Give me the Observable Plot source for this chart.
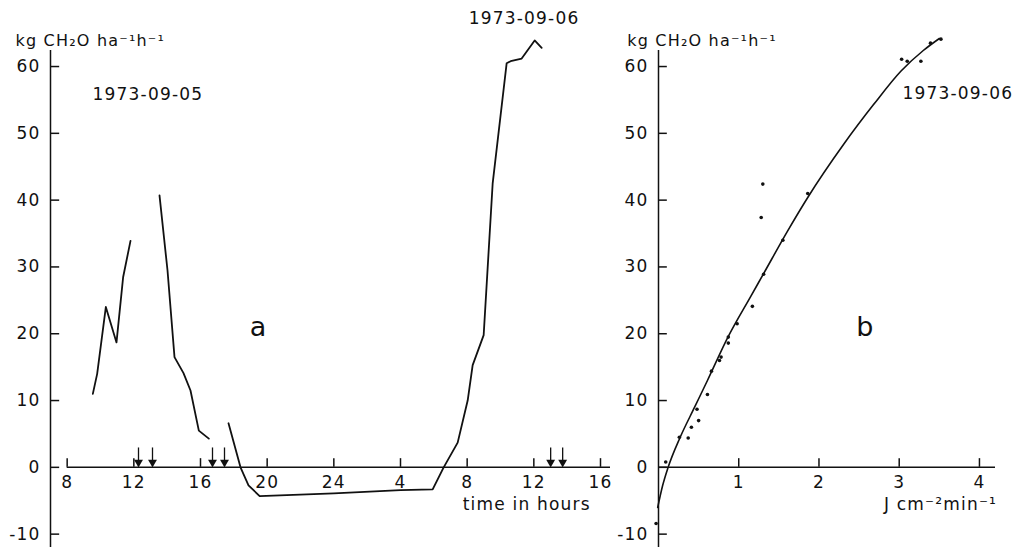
<!DOCTYPE html>
<html>
<head>
<meta charset="utf-8">
<script src="https://cdn.jsdelivr.net/npm/d3@7"></script>
<script src="https://cdn.jsdelivr.net/npm/@observablehq/plot@0.6"></script>
<style>
  html, body { margin: 0; padding: 0; background: #fff; }
  #wrap { position: relative; width: 1019px; height: 549px; overflow: hidden; }
  #wrap svg { position: absolute; top: 0; }
</style>
</head>
<body>
<div id="wrap"></div>
<script>
// ---- Panel a: net photosynthesis vs time (hours, continuous from 1973-09-05 08h) ----
const timeHours = [9.54, 9.80, 10.32, 10.96, 11.36, 11.80, 11.8,
  13.54, 14.02, 14.44, 14.98, 15.40, 15.90, 16.50, 16.5,
  17.68, 18.40, 18.88, 19.55, 24.0, 28.0, 29.93, 30.59, 31.43, 32.03, 32.33, 32.99, 33.53, 34.37, 34.61, 35.27, 36.05, 36.47];
const rateA = [11.0, 14.0, 24.0, 18.7, 28.5, 33.9, NaN,
  40.7, 29.5, 16.5, 14.1, 11.5, 5.5, 4.3, NaN,
  6.6, 0, -2.7, -4.3, -3.9, -3.4, -3.3, 0, 3.7, 10.0, 15.3, 19.8, 42.5, 60.5, 60.8, 61.2, 63.9, 62.8];
const arrowTimes = [12.28, 13.12, 16.72, 17.44, 37.01, 37.73];
const xTicksA = [8, 12, 16, 20, 24, 28, 32, 36, 40];
const xTickLabelsA = ["8", "12", "16", "20", "24", "4", "8", "12", "16"];

// ---- Panel b: net photosynthesis vs irradiance ----
const irradiance = [-0.03, 0.09, 0.26, 0.37, 0.41, 0.48, 0.50, 0.61, 0.66, 0.76, 0.78, 0.87, 0.87, 0.98, 1.17, 1.31, 1.28, 1.30, 1.55, 1.86, 3.03, 3.10, 3.27, 3.39, 3.52];
const rateB = [-8.4, 0.8, 4.5, 4.4, 6.0, 8.7, 7.0, 10.9, 14.4, 16.0, 16.5, 19.5, 18.6, 21.5, 24.1, 28.9, 37.4, 42.4, 34.0, 41.0, 61.1, 60.8, 60.8, 63.5, 64.1];
const fitIrr = [-0.01, 0.05, 0.12, 0.27, 0.45, 0.61, 0.87, 1.15, 1.31, 1.61, 1.86, 2.31, 2.68, 3.02, 3.30, 3.50];
const fitRate = [-6.0, -2.8, 0, 4.5, 9.0, 13.0, 19.6, 25.6, 29.0, 35.4, 40.4, 48.4, 54.3, 59.3, 62.4, 64.2];
const xTicksB = [1, 2, 3, 4];

const yTicks = [-10, 0, 10, 20, 30, 40, 50, 60];
const yExtent = [-12, 62.4];
const xExtentA = [7, 40.6];
const xExtentB = [0, 4.2];

const unitLabel = "kg CH\u2082O ha\u207B\u00B9h\u207B\u00B9";

const FONT = "DejaVu Sans";
const baseStyle = {fontFamily: FONT, fontSize: "17px", letterSpacing: "1.2px", background: "transparent", color: "#111", overflow: "visible"};

const seriesA = timeHours.map((t, i) => ({t, v: rateA[i]}));
const scatterB = irradiance.map((x, i) => ({x, v: rateB[i]}));
const fitB = fitIrr.map((x, i) => ({x, v: fitRate[i]}));

const plotA = Plot.plot({
  width: 620, height: 549,
  marginLeft: 50, marginRight: 10, marginTop: 50, marginBottom: 2,
  style: baseStyle,
  x: {domain: xExtentA, axis: null},
  y: {domain: yExtent, axis: null},
  marks: [
    // y axis line + inward ticks + labels
    Plot.ruleX([xExtentA[0]], {y1: yExtent[0], y2: yExtent[1], stroke: "#111", strokeWidth: 1.5}),
    Plot.ruleY(yTicks, {y: d => d, x1: xExtentA[0], x2: xExtentA[0] + 0.55, stroke: "#111", strokeWidth: 1.5}),
    Plot.text(yTicks, {x: xExtentA[0], y: d => d, text: d => String(d), dx: -10, textAnchor: "end", fill: "#111"}),
    // x axis along y = 0
    Plot.ruleY([0], {x1: xTicksA[0], x2: xExtentA[1], stroke: "#111", strokeWidth: 1.5}),
    Plot.ruleX(xTicksA, {x: d => d, y1: 0, y2: 1.3, stroke: "#111", strokeWidth: 1.5}),
    Plot.text(xTicksA, {x: d => d, y: 0, text: (d, i) => xTickLabelsA[i], dy: 15, fill: "#111"}),
    // arrows
    Plot.ruleX(arrowTimes, {x: d => d, y1: 1.0, y2: 2.9, stroke: "#111", strokeWidth: 1.3}),
    Plot.dot(arrowTimes, {x: d => d, y: 0.75, symbol: "triangle", rotate: 180, r: 3.3, fill: "#111", stroke: "none"}),
    // data
    Plot.line(seriesA, {x: "t", y: "v", stroke: "#111", strokeWidth: 1.8}),
    // annotations
    Plot.text([unitLabel], {x: 4.9, y: 63.9, text: d => d, textAnchor: "start", fill: "#111", fontSize: 16, letterSpacing: "0.2px"}),
    Plot.text(["1973-09-05"], {x: 9.52, y: 55.8, text: d => d, textAnchor: "start", fill: "#111"}),
    Plot.text(["1973-09-06"], {x: 32.09, y: 67.2, text: d => d, textAnchor: "start", fill: "#111"}),
    Plot.text(["a"], {x: 19.49, y: 20.9, text: d => d, fill: "#111", fontSize: 27}),
    Plot.text(["time in hours"], {x: 31.73, y: -5.5, text: d => d, textAnchor: "start", fill: "#111"})
  ]
});
plotA.style.left = "0px";

const plotB = Plot.plot({
  width: 459, height: 549,
  marginLeft: 98, marginRight: 24, marginTop: 50, marginBottom: 2,
  style: baseStyle,
  x: {domain: xExtentB, axis: null},
  y: {domain: yExtent, axis: null},
  marks: [
    Plot.ruleX([xExtentB[0]], {y1: yExtent[0], y2: yExtent[1], stroke: "#111", strokeWidth: 1.5}),
    Plot.ruleY(yTicks, {y: d => d, x1: xExtentB[0], x2: xExtentB[0] + 0.11, stroke: "#111", strokeWidth: 1.5}),
    Plot.text(yTicks, {x: xExtentB[0], y: d => d, text: d => String(d), dx: -10, textAnchor: "end", fill: "#111"}),
    Plot.ruleY([0], {x1: xExtentB[0], x2: xExtentB[1], stroke: "#111", strokeWidth: 1.5}),
    Plot.ruleX(xTicksB, {x: d => d, y1: 0, y2: 1.3, stroke: "#111", strokeWidth: 1.5}),
    Plot.text(xTicksB, {x: d => d, y: 0, text: d => String(d), dy: 15, fill: "#111"}),
    Plot.line(fitB, {x: "x", y: "v", curve: "monotone-x", stroke: "#111", strokeWidth: 1.6}),
    Plot.dot(scatterB, {x: "x", y: "v", r: 1.8, fill: "#111", stroke: "none"}),
    Plot.text([unitLabel], {x: -0.39, y: 63.9, text: d => d, textAnchor: "start", fill: "#111", fontSize: 16, letterSpacing: "0.2px"}),
    Plot.text(["1973-09-06"], {x: 3.04, y: 56.0, text: d => d, textAnchor: "start", fill: "#111"}),
    Plot.text(["b"], {x: 2.58, y: 20.9, text: d => d, fill: "#111", fontSize: 27}),
    Plot.text(["J cm\u207B\u00B2min\u207B\u00B9"], {x: 2.81, y: -5.5, text: d => d, textAnchor: "start", fill: "#111"})
  ]
});
plotB.style.left = "560px";

const wrap = document.getElementById("wrap");
wrap.appendChild(plotA);
wrap.appendChild(plotB);
</script>
</body>
</html>
